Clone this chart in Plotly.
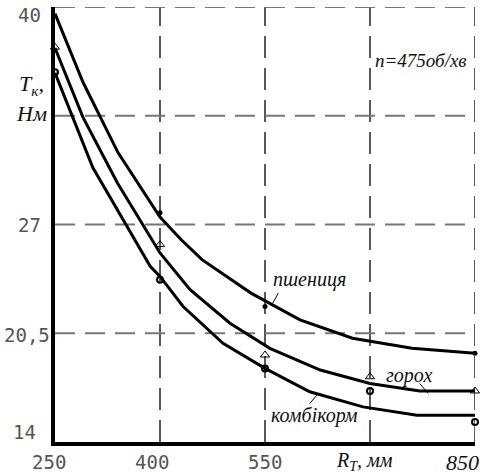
import plotly.graph_objects as go

# ---- data ----
wheat_x = [250, 290, 340, 400, 430, 460, 530, 600, 675, 760, 850]
wheat_y = [39.6, 35.5, 31.3, 27.45, 26.1, 24.9, 22.9, 21.3, 20.2, 19.6, 19.3]
pea_x = [250, 290, 339, 400, 443, 500, 557, 629, 700, 771, 850]
pea_y = [37.55, 33.4, 29.5, 25.3, 23.1, 21.1, 19.6, 18.3, 17.5, 17.05, 17.05]
feed_x = [250, 304, 386, 400, 433, 490, 550, 614, 690, 767, 850]
feed_y = [36.06, 30.4, 24.5, 23.9, 22.1, 19.9, 18.4, 17.0, 16.1, 15.6, 15.6]

wheat_px = [400, 550, 850]
wheat_py = [27.7, 22.1, 19.3]
pea_px = [250, 400, 550, 700, 850]
pea_py = [37.6, 25.8, 19.2, 17.9, 17.05]
feed_px = [250, 400, 550, 700, 850]
feed_py = [36.1, 23.7, 18.4, 17.05, 15.2]

x_grid = [400, 550, 700, 850]
y_grid = [20.5, 27, 33.5, 40]
x_ticks = [250, 400, 550]
x_ticklabels = ["250", "400", "550"]
y_ticks = [40, 27, 20.5, 14]
y_ticklabels = ["40", "27", "20,5", "14"]
series_names = ["пшениця", "горох", "комбікорм"]

SERIF = "Liberation Serif"
MONO = "DejaVu Sans Mono"

fig = go.Figure()
for xs, ys in [(wheat_x, wheat_y), (pea_x, pea_y), (feed_x, feed_y)]:
    fig.add_trace(go.Scatter(x=xs, y=ys, mode="lines",
                             line=dict(color="black", width=3),
                             hoverinfo="skip", showlegend=False, cliponaxis=False))

fig.add_trace(go.Scatter(x=wheat_px, y=wheat_py, mode="markers",
                         marker=dict(symbol="circle", size=5, color="black"),
                         showlegend=False, cliponaxis=False))
fig.add_trace(go.Scatter(x=pea_px, y=pea_py, mode="markers",
                         marker=dict(symbol="triangle-up-open", size=8, color="black",
                                     line=dict(width=1)),
                         showlegend=False, cliponaxis=False))
fig.add_trace(go.Scatter(x=feed_px, y=feed_py, mode="markers",
                         marker=dict(symbol="circle-open", size=6, color="black",
                                     line=dict(width=2)),
                         showlegend=False, cliponaxis=False))

shapes = []
for gx in x_grid:
    shapes.append(dict(type="line", xref="x", yref="y", x0=gx, x1=gx, y0=14, y1=40,
                       line=dict(color="#222", width=1.5, dash="22px,10px"), layer="below"))
for gy in y_grid:
    shapes.append(dict(type="line", xref="x", yref="y", x0=250, x1=850, y0=gy, y1=gy,
                       line=dict(color="#777", width=2, dash="20px,10px"), layer="below"))
# leader lines for curve labels
for (x0, y0, x1, y1) in [(561, 22.3, 569, 22.9), (771, 17.5, 783, 16.9), (614, 16.3, 626, 16.9)]:
    shapes.append(dict(type="line", xref="x", yref="y", x0=x0, y0=y0, x1=x1, y1=y1,
                       line=dict(color="black", width=1)))

ann = []
for v, t in zip(x_ticks, x_ticklabels):
    ann.append(dict(x=v, y=14, xref="x", yref="y", text=t, showarrow=False,
                    yshift=-20, xshift=-6 if v == 250 else (-8 if v == 400 else 0),
                    font=dict(family=MONO, size=19, color="#555")))
ann.append(dict(x=850, y=14, xref="x", yref="y", text="<i>850</i>", showarrow=False,
                yshift=-20, xshift=-13, font=dict(family=SERIF, size=22, color="#111")))
ann.append(dict(x=700, y=14, xref="x", yref="y", text="<i>R<sub>T</sub>, мм</i>", showarrow=False,
                yshift=-19, xshift=-6, font=dict(family=SERIF, size=20, color="#111")))
yshifts = {40: -8, 27: 0, 20.5: -2, 14: 10}
xshifts = {40: -12, 27: -12, 20.5: -3, 14: -17}
for v, t in zip(y_ticks, y_ticklabels):
    ann.append(dict(x=250, y=v, xref="x", yref="y", text=t, showarrow=False,
                    xanchor="right", yshift=yshifts[v], xshift=xshifts[v],
                    font=dict(family=MONO, size=19, color="#555")))
ann.append(dict(xref="paper", yref="paper", x=-0.055, y=0.82, text="<i>T<sub>к</sub>,</i>",
                showarrow=False, xanchor="center", yanchor="middle",
                font=dict(family=SERIF, size=22, color="#111")))
ann.append(dict(xref="paper", yref="paper", x=-0.055, y=0.755, text="<i>Нм</i>",
                showarrow=False, xanchor="center", yanchor="middle",
                font=dict(family=SERIF, size=22, color="#111")))
ann.append(dict(x=613, y=23.7, xref="x", yref="y", text="<i>" + series_names[0] + "</i>",
                showarrow=False, font=dict(family=SERIF, size=20, color="#111")))
ann.append(dict(x=756, y=18.0, xref="x", yref="y", text="<i>" + series_names[1] + "</i>",
                showarrow=False, font=dict(family=SERIF, size=20, color="#111")))
ann.append(dict(x=621, y=15.6, xref="x", yref="y", text="<i>" + series_names[2] + "</i>",
                showarrow=False, font=dict(family=SERIF, size=20, color="#111")))
ann.append(dict(x=773, y=36.8, xref="x", yref="y", text="<i>n=475об/хв</i>",
                showarrow=False, font=dict(family=SERIF, size=19, color="#111")))

fig.update_layout(
    width=481, height=474,
    margin=dict(l=55, r=6, t=7, b=32),
    paper_bgcolor="white", plot_bgcolor="white",
    shapes=shapes, annotations=ann,
    xaxis=dict(range=[250, 850], showgrid=False, zeroline=False, showticklabels=False,
               ticks="", showline=True, linecolor="black", linewidth=4),
    yaxis=dict(range=[14, 40], showgrid=False, zeroline=False, showticklabels=False,
               ticks="", showline=True, linecolor="black", linewidth=4),
)
fig.write_html("out.html", config={"displayModeBar": False},
               post_script="document.body.style.margin='0';document.body.style.overflow='hidden';")
